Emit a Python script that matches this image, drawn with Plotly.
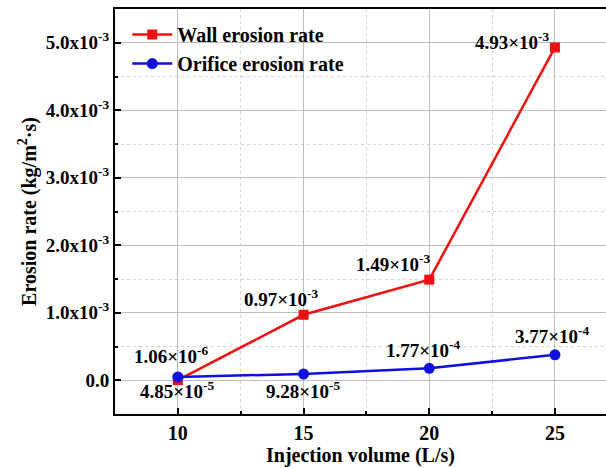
import plotly.graph_objects as go

# Injection volume (L/s)
injection = [10, 15, 20, 25]

# Erosion rates (kg/(m^2·s))
wall_rate = [1.06e-6, 0.97e-3, 1.49e-3, 4.93e-3]
orifice_rate = [4.85e-5, 9.28e-5, 1.77e-4, 3.77e-4]

wall_labels = ["1.06×10<sup>-6</sup>", "0.97×10<sup>-3</sup>",
               "1.49×10<sup>-3</sup>", "4.93×10<sup>-3</sup>"]
orifice_labels = ["4.85×10<sup>-5</sup>", "9.28×10<sup>-5</sup>",
                  "1.77×10<sup>-4</sup>", "3.77×10<sup>-4</sup>"]

y_tickvals = [0, 1e-3, 2e-3, 3e-3, 4e-3, 5e-3]
y_ticktext = ["0.0", "1.0x10<sup>-3</sup>", "2.0x10<sup>-3</sup>",
              "3.0x10<sup>-3</sup>", "4.0x10<sup>-3</sup>", "5.0x10<sup>-3</sup>"]
x_tickvals = [10, 15, 20, 25]

FONT = "serif"


def bold(s):
    return "<b>" + s + "</b>"


fig = go.Figure()
fig.add_trace(go.Scatter(
    x=injection, y=wall_rate, mode="lines+markers", name=bold("Wall erosion rate"),
    line=dict(color="#ee1111", width=2.5),
    marker=dict(symbol="square", size=10, color="#ee1111"),
))
fig.add_trace(go.Scatter(
    x=injection, y=orifice_rate, mode="lines+markers", name=bold("Orifice erosion rate"),
    line=dict(color="#1010dd", width=2.5),
    marker=dict(symbol="circle", size=11, color="#1010dd"),
))

# value labels: pixel shift (x, y) from each point
label_offsets_wall = [(-6, 25), (-22, 17), (-36, 17), (-42, 6)]
label_offsets_orifice = [(0, -13), (0, -16), (-6, 19), (-2, 20)]

for xv, yv, txt, (dx, dy) in zip(injection, wall_rate, wall_labels, label_offsets_wall):
    fig.add_annotation(x=xv, y=yv, text=bold(txt), showarrow=False,
                       xshift=dx, yshift=dy,
                       font=dict(family=FONT, size=19, color="black"))
for xv, yv, txt, (dx, dy) in zip(injection, orifice_rate, orifice_labels, label_offsets_orifice):
    fig.add_annotation(x=xv, y=yv, text=bold(txt), showarrow=False,
                       xshift=dx, yshift=dy,
                       font=dict(family=FONT, size=19, color="black"))

fig.update_layout(
    width=606, height=468,
    margin=dict(l=115, r=0, t=9, b=54),
    paper_bgcolor="white", plot_bgcolor="white",
    font=dict(family=FONT, size=18, color="black"),
    legend=dict(
        x=0.025, y=0.985, xanchor="left", yanchor="top",
        bgcolor="rgba(0,0,0,0)", borderwidth=0,
        font=dict(family=FONT, size=20, color="black"),
        itemwidth=40,
    ),
    showlegend=True,
)

fig.update_xaxes(
    range=[7.5, 27.03],
    tickmode="array", tickvals=x_tickvals,
    ticktext=[bold(str(v)) for v in x_tickvals],
    ticks="inside", ticklen=6, tickwidth=2, tickcolor="black",
    showline=True, linecolor="black", linewidth=2, mirror=True,
    showgrid=True, gridcolor="#bdbdbd", gridwidth=1,
    zeroline=False,
    minor=dict(tickvals=[12.5, 17.5, 22.5], ticks="inside", ticklen=3,
               tickwidth=1.5, tickcolor="black",
               showgrid=True, gridcolor="#d4d4d4", griddash="dot", gridwidth=1),
    tickfont=dict(family=FONT, size=20, color="black"),
    title=dict(text=bold("Injection volume (L/s)"), standoff=2,
               font=dict(family=FONT, size=20, color="black")),
)

fig.update_yaxes(
    range=[-0.5e-3, 5.5e-3],
    tickmode="array", tickvals=y_tickvals,
    ticktext=[bold(t) for t in y_ticktext],
    ticks="inside", ticklen=6, tickwidth=2, tickcolor="black",
    showline=True, linecolor="black", linewidth=2, mirror=False,
    showgrid=True, gridcolor="#bdbdbd", gridwidth=1,
    zeroline=False,
    minor=dict(tickvals=[0.5e-3, 1.5e-3, 2.5e-3, 3.5e-3, 4.5e-3], ticks="inside",
               ticklen=3, tickwidth=1.5, tickcolor="black",
               showgrid=True, gridcolor="#d4d4d4", griddash="dot", gridwidth=1),
    tickfont=dict(family=FONT, size=19, color="black"),
    title=dict(text=bold("Erosion rate (kg/m<sup>2</sup>·s)"), standoff=4,
               font=dict(family=FONT, size=20, color="black")),
)

fig.write_html("out.html")
